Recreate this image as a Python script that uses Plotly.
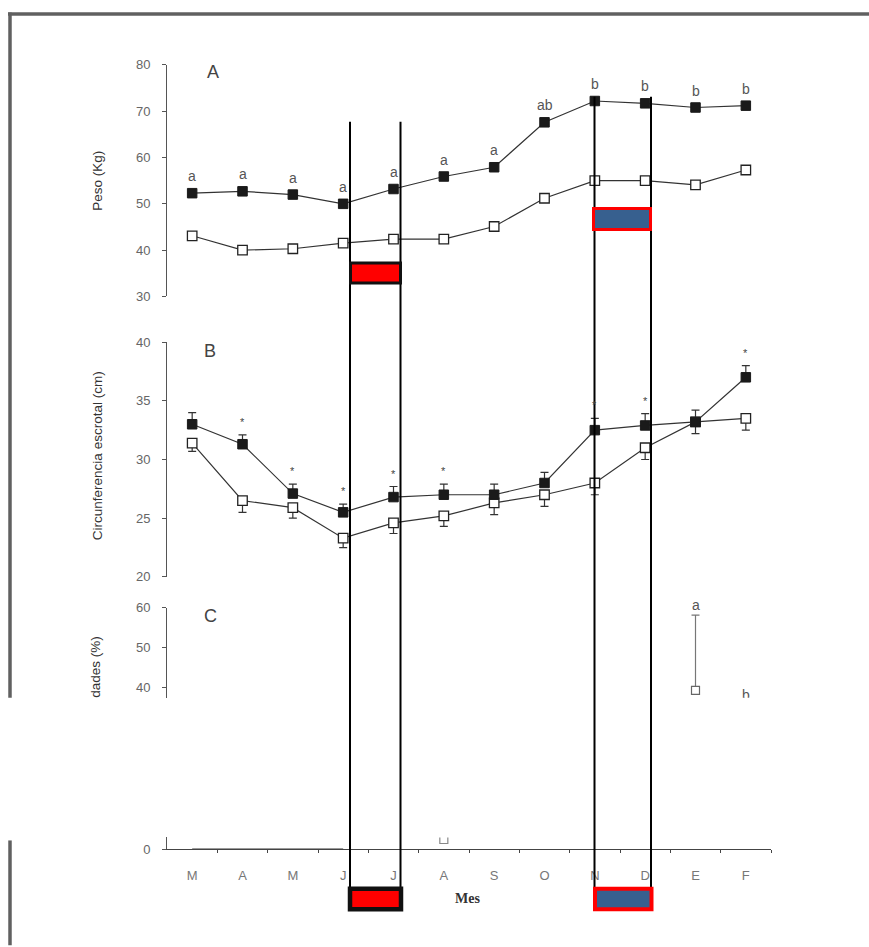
import plotly.graph_objects as go

# ---------------- data ----------------
months = ["M", "A", "M", "J", "J", "A", "S", "O", "N", "D", "E", "F"]
idx = list(range(len(months)))

# Panel A: Peso (Kg)
peso_filled = [52.3, 52.7, 52.0, 50.0, 53.2, 55.9, 57.9, 67.6, 72.2, 71.7, 70.8, 71.2]
peso_open = [43.1, 40.0, 40.3, 41.5, 42.4, 42.4, 45.1, 51.2, 55.0, 55.0, 54.1, 57.3]
peso_letters = ["a", "a", "a", "a", "a", "a", "a", "ab", "b", "b", "b", "b"]

# Panel B: Circunferencia escrotal (cm)
ce_filled = [33.0, 31.3, 27.1, 25.5, 26.8, 27.0, 27.0, 28.0, 32.5, 32.9, 33.2, 37.0]
ce_filled_err = [1.0, 0.8, 0.8, 0.7, 0.9, 0.9, 0.9, 0.9, 1.0, 1.0, 1.0, 1.0]
ce_open = [31.4, 26.5, 25.9, 23.3, 24.6, 25.2, 26.3, 27.0, 28.0, 31.0, 33.2, 33.5]
ce_open_err = [0.7, 1.0, 0.9, 0.8, 0.9, 0.9, 1.0, 1.0, 1.0, 1.0, 1.0, 1.0]
ce_star = ["", "*", "*", "*", "*", "*", "", "", "*", "*", "", "*"]

# Panel C (partly hidden): visible fragments
c_upper_x = [10]
c_upper_open = [39.4]
c_upper_err = [18.8]
c_upper_letter_a = ["a"]
c_upper_b_x = [11]
c_upper_b_y = [37.9]
c_low_open_x = [5]
c_low_open = [2.4]
c_low_filled_x = [0, 1, 2, 3]
c_low_filled = [0, 0, 0, 0]

# ---------------- layout helpers ----------------
W, H = 869, 947
SY, OY = 0.986, 7.0   # observed vertical mapping of the snapshot
def px(x):
    return x / W
def py(y):
    return 1 - ((y - OY) / SY) / H

FONT = "Liberation Sans, Arial, sans-serif"
GRAY = "#555555"
XL, XR = 167, 771

fig = go.Figure()

mk_fill = dict(symbol="square", size=9.5, color="#1a1a1a", line=dict(color="#1a1a1a", width=1))
mk_open = dict(symbol="square", size=9.5, color="white", line=dict(color="#222222", width=1.3))
ln = dict(color="#333333", width=1.2)

# Panel A
fig.add_trace(go.Scatter(x=idx, y=peso_open, mode="lines+markers", line=ln, marker=mk_open,
                         xaxis="x", yaxis="y", showlegend=False))
fig.add_trace(go.Scatter(x=idx, y=peso_filled, mode="lines+markers", line=ln, marker=mk_fill,
                         xaxis="x", yaxis="y", showlegend=False))

# Panel B
fig.add_trace(go.Scatter(x=idx, y=ce_open, mode="lines+markers", line=ln, marker=mk_open,
                         error_y=dict(type="data", symmetric=False, array=[0] * 12,
                                      arrayminus=ce_open_err, color="#333", thickness=1.2, width=4),
                         xaxis="x2", yaxis="y2", showlegend=False))
fig.add_trace(go.Scatter(x=idx, y=ce_filled, mode="lines+markers", line=ln, marker=mk_fill,
                         error_y=dict(type="data", symmetric=False, array=ce_filled_err,
                                      arrayminus=[0] * 12, color="#333", thickness=1.2, width=4),
                         xaxis="x2", yaxis="y2", showlegend=False))

# Panel C upper (clipped fragment)
fig.add_trace(go.Scatter(x=c_upper_x, y=c_upper_open, mode="markers",
                         marker=dict(symbol="square", size=8, color="white", line=dict(color="#666", width=1.2)),
                         error_y=dict(type="data", symmetric=False, array=c_upper_err, arrayminus=[0],
                                      color="#777", thickness=1.2, width=4),
                         xaxis="x3", yaxis="y3", cliponaxis=True, showlegend=False))
fig.add_trace(go.Scatter(x=c_upper_b_x, y=c_upper_b_y, mode="text", text=["b"],
                         textfont=dict(family=FONT, size=14, color="#555"),
                         textposition="middle center",
                         xaxis="x3", yaxis="y3", cliponaxis=True, showlegend=False))

# Panel C lower (clipped fragment)
fig.add_trace(go.Scatter(x=c_low_filled_x, y=c_low_filled, mode="lines", line=dict(color="#9a9a9a", width=2.5),
                         xaxis="x4", yaxis="y4", cliponaxis=False, showlegend=False))
fig.add_trace(go.Scatter(x=c_low_open_x, y=c_low_open, mode="markers",
                         marker=dict(symbol="square", size=8, color="white", line=dict(color="#888", width=1.2)),
                         xaxis="x4", yaxis="y4", cliponaxis=True, showlegend=False))

yax_common = dict(showline=True, linecolor=GRAY, linewidth=1, ticks="outside", ticklen=4,
                  tickcolor=GRAY, showgrid=False, zeroline=False,
                  tickfont=dict(family=FONT, size=13, color="#666"), ticklabelstandoff=9)
xax_hidden = dict(range=[-0.5, 11.5], visible=False, domain=[px(XL), px(XR)])

fig.update_layout(
    width=W, height=H, autosize=False, hovermode=False,
    margin=dict(l=0, r=0, t=0, b=0),
    paper_bgcolor="white", plot_bgcolor="rgba(0,0,0,0)",
    xaxis=dict(**xax_hidden, anchor="y"),
    yaxis=dict(**yax_common, domain=[py(297), py(65)], range=[30, 80], tickvals=[30, 40, 50, 60, 70, 80], anchor="x"),
    xaxis2=dict(**xax_hidden, anchor="y2"),
    yaxis2=dict(**yax_common, domain=[py(578), py(342.7)], range=[20, 40], tickvals=[20, 25, 30, 35, 40], anchor="x2"),
    xaxis3=dict(**xax_hidden, anchor="y3"),
    yaxis3=dict(**yax_common, domain=[py(699), py(609)], range=[60 - 90 / 4.01, 60], tickvals=[40, 50, 60], anchor="x3"),
    xaxis4=dict(range=[-0.5, 11.5], domain=[px(XL), px(XR)], anchor="y4",
                showline=True, linecolor="#444", linewidth=1.2, showgrid=False, zeroline=False,
                tickvals=idx, ticktext=months, ticks="", ticklabelstandoff=14,
                tickfont=dict(family=FONT, size=13, color="#777"),
                minor=dict(tickvals=[i + 0.5 for i in idx], ticks="outside", ticklen=3, tickcolor="#444", showgrid=False)),
    yaxis4=dict(**yax_common, domain=[py(850.7), py(839)], range=[0, (850.7 - 839) / 4.01],
                tickvals=[0], anchor="x4"),
)

ann = []
# letters in A
for i, (v, t) in enumerate(zip(peso_filled, peso_letters)):
    ann.append(dict(x=i, y=v, xref="x", yref="y", text=t, showarrow=False, yshift=17,
                    xanchor="center", yanchor="middle",
                    font=dict(family=FONT, size=14, color="#555")))
# asterisks in B
for i, (v, e, s) in enumerate(zip(ce_filled, ce_filled_err, ce_star)):
    if s:
        ann.append(dict(x=i, y=v + e, xref="x2", yref="y2", text=s, showarrow=False, yshift=13,
                        xanchor="center", yanchor="middle",
                        font=dict(family=FONT, size=11, color="#444")))
# 'a' in C
for x, v, e, t in zip(c_upper_x, c_upper_open, c_upper_err, c_upper_letter_a):
    ann.append(dict(x=x, y=v + e, xref="x3", yref="y3", text=t, showarrow=False, yshift=10,
                    xanchor="center", yanchor="middle",
                    font=dict(family=FONT, size=14, color="#555")))

# panel letters & titles
for lab, x, y in [("A", 213, 72), ("B", 210, 352), ("C", 210, 617)]:
    ann.append(dict(x=px(x), y=py(y), xref="paper", yref="paper", text=lab, showarrow=False,
                    xanchor="center", yanchor="middle",
                    font=dict(family=FONT, size=18, color="#444")))
for lab, x, y in [("Peso (Kg)", 98, 181), ("Circunferencia escrotal (cm)", 97, 457), ("dades (%)", 96, 668)]:
    ann.append(dict(x=px(x), y=py(y), xref="paper", yref="paper", text=lab, showarrow=False, textangle=-90,
                    xanchor="center", yanchor="middle",
                    font=dict(family=FONT, size=13.5, color="#333")))
ann.append(dict(x=px(468), y=py(900), xref="paper", yref="paper", text="<b>Mes</b>", showarrow=False,
                xanchor="center", yanchor="middle",
                font=dict(family="Liberation Serif, Times New Roman, serif", size=14, color="#333")))
fig.update_layout(annotations=ann)

# overlay shapes (frame, marker lines, colored boxes)
shapes = []
frame = dict(color="#606060", width=3.5)
shapes.append(dict(type="line", xref="paper", yref="paper", x0=px(8), x1=px(869), y0=py(14), y1=py(14), line=frame))
shapes.append(dict(type="line", xref="paper", yref="paper", x0=px(10), x1=px(10), y0=py(12.5), y1=py(699), line=frame))
shapes.append(dict(type="line", xref="paper", yref="paper", x0=px(10), x1=px(10), y0=py(842), y1=py(947), line=frame))
vl = dict(color="black", width=2)
for x, ytop in [(350, 122), (400.5, 122), (594.5, 97), (651, 97)]:
    shapes.append(dict(type="line", xref="paper", yref="paper", x0=px(x), x1=px(x), y0=py(ytop), y1=py(890), line=vl))
RED, BLUE = "#ff0000", "#37608f"
for x0, x1, y0, y1, fill, lc, lw in [
    (350.5, 400.5, 263.5, 283.5, RED, "#111", 3),
    (593.5, 650.5, 209, 230, BLUE, RED, 3),
    (350, 401, 890.5, 911, RED, "#111", 4.5),
    (595, 651.5, 890.5, 911, BLUE, RED, 4),
]:
    shapes.append(dict(type="rect", xref="paper", yref="paper", x0=px(x0), x1=px(x1), y0=py(y1), y1=py(y0),
                       fillcolor=fill, line=dict(color=lc, width=lw), layer="above"))
fig.update_layout(shapes=shapes)

fig.write_html("out.html", config={"displayModeBar": False, "staticPlot": True},
               post_script="document.body.style.margin='0';document.body.style.overflow='hidden';")
